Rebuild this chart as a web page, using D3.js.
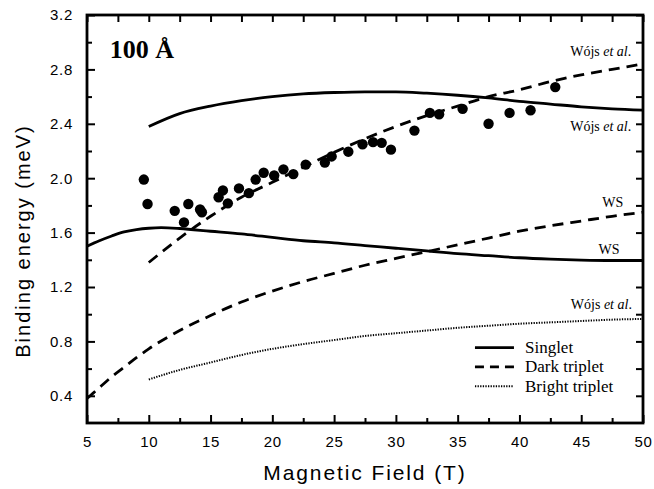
<!DOCTYPE html>
<html>
<head>
<meta charset="utf-8">
<script src="https://cdn.jsdelivr.net/npm/d3@7"></script>
<style>
  body { margin: 0; background: #fff; }
  svg { display: block; }
</style>
</head>
<body>
<div id="chart"></div>
<script>
// measured points (field in T, binding energy in meV)
const expField = [9.6, 9.9, 12.1, 12.85, 13.2, 14.15, 14.3, 15.65, 16.0, 16.4, 17.3, 18.1, 18.65, 19.3, 20.15, 20.9,
  21.7, 22.7, 24.25, 24.8, 26.15, 27.3, 28.15, 28.85, 29.6, 31.5, 32.75, 33.5, 35.4, 37.5, 39.2, 40.9, 42.9];
const expEnergy = [1.99, 1.81, 1.76, 1.675, 1.81, 1.77, 1.75, 1.86, 1.91, 1.815, 1.925, 1.89, 1.99, 2.04, 2.02, 2.065,
  2.03, 2.10, 2.115, 2.16, 2.195, 2.25, 2.265, 2.26, 2.21, 2.35, 2.48, 2.47, 2.51, 2.40, 2.48, 2.50, 2.67];

// theory curves
const singletWojsB = [10, 12.5, 15, 17.5, 20, 22.5, 25, 27.5, 30, 32.5, 35, 37.5, 40, 42.5, 45, 47.5, 50];
const singletWojsE = [2.38, 2.475, 2.53, 2.57, 2.60, 2.62, 2.63, 2.635, 2.635, 2.625, 2.61, 2.59, 2.565, 2.545, 2.525, 2.51, 2.50];

const darkWojsB = [10, 12.5, 15, 17.5, 20, 22.5, 25, 27.5, 30, 32.5, 35, 37.5, 40, 42.5, 45, 47.5, 50];
const darkWojsE = [1.38, 1.56, 1.72, 1.86, 1.97, 2.08, 2.19, 2.29, 2.38, 2.46, 2.53, 2.60, 2.65, 2.71, 2.76, 2.80, 2.84];

const singletWSB = [5, 6, 7, 8, 9, 10, 11, 12.5, 15, 17.5, 20, 22.5, 25, 27.5, 30, 32.5, 35, 37.5, 40, 42.5, 45, 47.5, 50];
const singletWSE = [1.50, 1.54, 1.575, 1.605, 1.622, 1.632, 1.636, 1.63, 1.61, 1.59, 1.565, 1.54, 1.525, 1.505, 1.485,
  1.465, 1.445, 1.43, 1.415, 1.405, 1.398, 1.395, 1.395];

const darkWSB = [5, 6, 7, 8, 9, 10, 12.5, 15, 17.5, 20, 22.5, 25, 27.5, 30, 32.5, 35, 37.5, 40, 42.5, 45, 47.5, 50];
const darkWSE = [0.38, 0.46, 0.54, 0.61, 0.68, 0.745, 0.88, 0.99, 1.09, 1.17, 1.24, 1.30, 1.36, 1.41, 1.46, 1.51,
  1.56, 1.61, 1.65, 1.685, 1.72, 1.75];

const brightWojsB = [10, 12.5, 15, 17.5, 20, 22.5, 25, 27.5, 30, 32.5, 35, 37.5, 40, 42.5, 45, 47.5, 50];
const brightWojsE = [0.52, 0.59, 0.645, 0.70, 0.745, 0.78, 0.81, 0.84, 0.86, 0.88, 0.90, 0.915, 0.93, 0.94, 0.95, 0.96, 0.965];

const xTicks = [5, 10, 15, 20, 25, 30, 35, 40, 45, 50];
const yTicks = [0.4, 0.8, 1.2, 1.6, 2.0, 2.4, 2.8, 3.2];

const legendItems = ['Singlet', 'Dark triplet', 'Bright triplet'];

// Graph dimensions
const W = 654, H = 489;
const margin = { top: 15, right: 11, bottom: 66, left: 87 };
const width = W - margin.left - margin.right;
const height = H - margin.top - margin.bottom;

const serif = '"Liberation Serif", "Times New Roman", Times, serif';
const sans = '"Liberation Sans", Arial, Helvetica, sans-serif';

const svg = d3.select('#chart').append('svg')
    .attr('width', W)
    .attr('height', H)
  .append('g')
    .attr('transform', `translate(${margin.left},${margin.top})`);

const x = d3.scaleLinear().domain([5, 50]).range([0, width]);
const y = d3.scaleLinear().domain([0.2, 3.2]).range([height, 0]);

const zip = (bs, es) => bs.map((b, i) => [b, es[i]]);

const line = d3.line()
    .x(d => x(d[0]))
    .y(d => y(d[1]))
    .curve(d3.curveMonotoneX);

// styles per curve type
const styles = {
  'Singlet': { dash: null, w: 2.8 },
  'Dark triplet': { dash: '11,7', w: 2.8 },
  'Bright triplet': { dash: '1.3,1.3', w: 2 }
};

const curves = [
  { type: 'Singlet', pts: zip(singletWojsB, singletWojsE) },
  { type: 'Dark triplet', pts: zip(darkWojsB, darkWojsE) },
  { type: 'Singlet', pts: zip(singletWSB, singletWSE) },
  { type: 'Dark triplet', pts: zip(darkWSB, darkWSE) },
  { type: 'Bright triplet', pts: zip(brightWojsB, brightWojsE) }
];

svg.append('defs').append('clipPath').attr('id', 'clip')
  .append('rect').attr('width', width).attr('height', height);

curves.forEach(c => {
  svg.append('path')
      .datum(c.pts)
      .attr('clip-path', 'url(#clip)')
      .attr('d', line)
      .attr('fill', 'none')
      .attr('stroke', '#000')
      .attr('stroke-width', styles[c.type].w)
      .attr('stroke-dasharray', styles[c.type].dash);
});

// data dots
svg.selectAll('.dot')
  .data(zip(expField, expEnergy))
  .enter().append('circle')
    .attr('class', 'dot')
    .attr('cx', d => x(d[0]))
    .attr('cy', d => y(d[1]))
    .attr('r', 5.2)
    .attr('fill', '#000');

// axes, ticks inward on all sides
const xMinor = d3.range(7.5, 50, 5);
const yMinor = d3.range(0.6, 3.2, 0.4).map(v => +v.toFixed(1));

function styleAxis(g) {
  g.select('.domain').remove();
  g.selectAll('.tick line').attr('stroke', '#000').attr('stroke-width', 2);
  g.selectAll('.tick text').attr('fill', '#000')
    .style('font-family', sans).style('font-size', '15px').style('letter-spacing', '0.7px');
}

const xAxis = svg.append('g').attr('transform', `translate(0,${height})`)
  .call(d3.axisBottom(x).tickValues(xTicks).tickSize(-8).tickPadding(13).tickFormat(d3.format('d')));
styleAxis(xAxis);
const xAxisMinor = svg.append('g').attr('transform', `translate(0,${height})`)
  .call(d3.axisBottom(x).tickValues(xMinor).tickSize(-5).tickFormat(''));
styleAxis(xAxisMinor);

const yAxis = svg.append('g')
  .call(d3.axisLeft(y).tickValues(yTicks).tickSize(-8).tickPadding(14).tickFormat(d3.format('.1f')));
styleAxis(yAxis);
const yAxisMinor = svg.append('g')
  .call(d3.axisLeft(y).tickValues(yMinor).tickSize(-5).tickFormat(''));
styleAxis(yAxisMinor);

const xTop = svg.append('g')
  .call(d3.axisTop(x).tickValues(xTicks.concat(xMinor)).tickSize(-7).tickFormat(''));
styleAxis(xTop);
const yRight = svg.append('g').attr('transform', `translate(${width},0)`)
  .call(d3.axisRight(y).tickValues(yTicks.concat(yMinor)).tickSize(-7).tickFormat(''));
styleAxis(yRight);

// frame
svg.append('rect')
    .attr('width', width)
    .attr('height', height)
    .attr('fill', 'none')
    .attr('stroke', '#000')
    .attr('stroke-width', 2.8);

// axis titles
svg.append('text')
    .attr('x', width / 2)
    .attr('y', height + 57)
    .attr('text-anchor', 'middle')
    .style('font-family', sans)
    .style('font-size', '21px')
    .style('letter-spacing', '1.9px')
    .text('Magnetic Field (T)');

svg.append('text')
    .attr('transform', 'rotate(-90)')
    .attr('x', -(height / 2) - 22)
    .attr('y', -57)
    .attr('text-anchor', 'middle')
    .style('font-family', sans)
    .style('font-size', '20px')
    .style('letter-spacing', '2px')
    .text('Binding energy (meV)');

// well-width label
svg.append('text')
    .attr('x', x(6.85))
    .attr('y', y(2.885))
    .style('font-family', serif)
    .style('font-size', '26px')
    .style('font-weight', 'bold')
    .text('100 Å');

// curve annotations
const annotations = [
  { label: 'Wójs', at: [49.05, 2.9] },
  { label: 'Wójs', at: [49.05, 2.35] },
  { label: 'WS', at: [48.4, 1.785] },
  { label: 'WS', at: [48.1, 1.44] },
  { label: 'Wójs', at: [49.1, 1.04] }
];

annotations.forEach(a => {
  const t = svg.append('text')
      .attr('x', x(a.at[0]))
      .attr('y', y(a.at[1]))
      .attr('text-anchor', 'end')
      .style('font-family', serif)
      .style('font-size', '14px');
  if (a.label === 'WS') {
    t.text('WS');
  } else {
    t.append('tspan').text('Wójs ');
    t.append('tspan').style('font-style', 'italic').text('et al');
    t.append('tspan').text('.');
  }
});

// legend
const legend = svg.append('g')
    .attr('transform', `translate(${x(36.4)},${y(1.6) + 115})`);

legendItems.forEach((name, i) => {
  const row = legend.append('g').attr('transform', `translate(0,${i * 19.3})`);
  row.append('line')
      .attr('x1', 0).attr('x2', 39)
      .attr('stroke', '#000')
      .attr('stroke-width', styles[name].w)
      .attr('stroke-dasharray', name === 'Dark triplet' ? '9,6' : styles[name].dash);
  row.append('text')
      .attr('x', 50)
      .attr('y', 5.5)
      .style('font-family', serif)
      .style('font-size', '17px')
      .text(name);
});
</script>
</body>
</html>
